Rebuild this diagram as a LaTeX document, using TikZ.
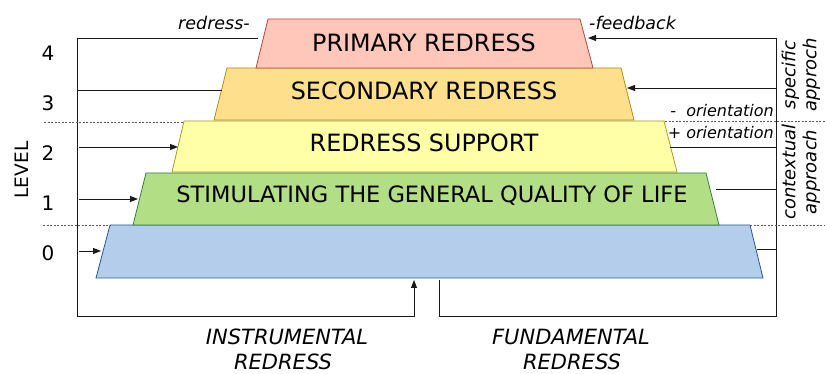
\documentclass[tikz,border=0pt]{standalone}
\usepackage{fontspec}
\setmainfont{DejaVu Sans}
\usetikzlibrary{arrows.meta}
\definecolor{pinkF}{RGB}{255,199,186}
\definecolor{pinkB}{RGB}{180,70,60}
\definecolor{oraF}{RGB}{253,223,140}
\definecolor{oraB}{RGB}{180,140,20}
\definecolor{yelF}{RGB}{255,255,168}
\definecolor{yelB}{RGB}{160,160,30}
\definecolor{grnF}{RGB}{178,222,134}
\definecolor{grnB}{RGB}{50,125,70}
\definecolor{bluF}{RGB}{180,205,234}
\definecolor{bluB}{RGB}{47,85,151}
\begin{document}
\begin{tikzpicture}[x=1pt,y=-1pt,
  ln/.style={draw=black!90, line width=0.9pt},
  arr/.style={ln,-{Triangle[length=8pt,width=6pt]}},
  dsh/.style={draw=black!65, line width=0.7pt, dash pattern=on 2pt off 1.5pt},
  boxtxt/.style={font=\fontsize{23.8}{28}\selectfont, anchor=base, inner sep=0pt},
  digit/.style={font=\fontsize{20}{24}\selectfont, anchor=base, inner sep=0pt},
  itl/.style={font=\fontsize{17.5}{21}\selectfont\itshape, anchor=base, inner sep=0pt},
  bigitl/.style={font=\fontsize{21}{25}\selectfont\itshape, anchor=base, inner sep=0pt},
  ori/.style={font=\fontsize{16}{19}\selectfont\itshape, anchor=base east, inner sep=0pt},
  side/.style={font=\fontsize{18}{22}\selectfont\itshape, rotate=90, align=center, inner sep=0pt},
  trap/.style={line width=0.8pt}]
\useasboundingbox (0,0) rectangle (825,374);

% trapezoid corners
\coordinate (p1) at (268,19);  \coordinate (p2) at (580,19);  \coordinate (p3) at (593,68);  \coordinate (p4) at (256,68);
\coordinate (o1) at (227,68);  \coordinate (o2) at (621,68);  \coordinate (o3) at (634,120); \coordinate (o4) at (214,120);
\coordinate (y1) at (184,121); \coordinate (y2) at (664,121); \coordinate (y3) at (677,172); \coordinate (y4) at (172,172);
\coordinate (g1) at (146,173); \coordinate (g2) at (706,173); \coordinate (g3) at (719,225); \coordinate (g4) at (133,225);
\coordinate (b1) at (110,225); \coordinate (b2) at (750,225); \coordinate (b3) at (763,278); \coordinate (b4) at (96,278);

\draw[trap, draw=bluB, fill=bluF] (b1) -- (b2) -- (b3) -- (b4) -- cycle;
\draw[trap, draw=grnB, fill=grnF] (g1) -- (g2) -- (g3) -- (g4) -- cycle;
\draw[trap, draw=yelB, fill=yelF] (y1) -- (y2) -- (y3) -- (y4) -- cycle;
\draw[trap, draw=oraB, fill=oraF] (o1) -- (o2) -- (o3) -- (o4) -- cycle;
\draw[trap, draw=pinkB, fill=pinkF] (p1) -- (p2) -- (p3) -- (p4) -- cycle;

\node[boxtxt] (t4) at (424,52) {PRIMARY REDRESS};
\node[boxtxt] (t3) at (424,100) {SECONDARY REDRESS};
\node[boxtxt] (t2) at (424,152) {REDRESS SUPPORT};
\node[boxtxt, font=\fontsize{22.5}{26}\selectfont] (t1) at (432,203) {STIMULATING THE GENERAL QUALITY OF LIFE};

% left axis
\coordinate (axT) at (77,38);
\coordinate (axB) at (77,316);
\coordinate (topL) at (258,38);
\coordinate (insC) at (414,316);
\coordinate (insE) at (414,280);
\draw[arr] (topL) -- (axT) -- (axB) -- (insC) -- (insE);
\coordinate (l3s) at (77,90);   \coordinate (l3e) at (222,90);
\coordinate (l2s) at (79,147);  \coordinate (l2e) at (178,147);
\coordinate (l1s) at (79,199);  \coordinate (l1e) at (138,199);
\coordinate (l0s) at (79,251);  \coordinate (l0e) at (101,251);
\draw[ln] (l3s) -- (l3e);
\draw[arr] (l2s) -- (l2e);
\draw[arr] (l1s) -- (l1e);
\draw[arr] (l0s) -- (l0e);

% right frame
\coordinate (fS) at (439,280);
\coordinate (fC) at (439,316);
\coordinate (fR) at (776,316);
\coordinate (fT) at (776,38);
\coordinate (fbE) at (588,38);
\draw[ln] (fS) -- (fC) -- (fR) -- (fT);
\draw[arr] (fT) -- (fbE);
\coordinate (r3s) at (776,88);  \coordinate (r3e) at (627,88);
\coordinate (r2s) at (776,147); \coordinate (r2e) at (670,147);
\coordinate (r1s) at (776,189); \coordinate (r1e) at (716,189);
\coordinate (r0s) at (776,249); \coordinate (r0e) at (757,249);
\draw[arr] (r3s) -- (r3e);
\draw[ln] (r2s) -- (r2e);
\draw[ln] (r1s) -- (r1e);
\draw[ln] (r0s) -- (r0e);

% dashed separators
\coordinate (dA1) at (44,122);  \coordinate (dA2) at (184,122);
\coordinate (dB1) at (665,121); \coordinate (dB2) at (825,121);
\coordinate (dC1) at (43,225);  \coordinate (dC2) at (110,225);
\coordinate (dD1) at (750,225); \coordinate (dD2) at (825,225);
\draw[dsh] (dA1) -- (dA2);
\draw[dsh] (dB1) -- (dB2);
\draw[dsh] (dC1) -- (dC2);
\draw[dsh] (dD1) -- (dD2);

% level digits
\node[digit] (n4) at (48,61) {4};
\node[digit] (n3) at (48,111) {3};
\node[digit] (n2) at (48,161) {2};
\node[digit] (n1) at (48,211) {1};
\node[digit] (n0) at (48,261) {0};
\node[font=\fontsize{18.5}{22}\selectfont, rotate=90, inner sep=0pt] (lev) at (22,170) {LEVEL};

% italic labels
\node[itl, anchor=base east] (rd) at (250,30) {redress-};
\node[itl, anchor=base west] (fb) at (589,30) {-feedback};
\node[ori] (om) at (774,117) {-\ \ orientation};
\node[ori] (op) at (774,139) {+ orientation};
\node[side] (sp) at (801,75) {specific\\[-1pt]approch};
\node[side] (ct) at (801,172) {contextual\\[-1pt]approach};

\node[bigitl] (ins1) at (287,344) {INSTRUMENTAL};
\node[bigitl] (ins2) at (283,369) {REDRESS};
\node[bigitl] (fun1) at (571,344) {FUNDAMENTAL};
\node[bigitl] (fun2) at (572,369) {REDRESS};
\end{tikzpicture}
\end{document}
